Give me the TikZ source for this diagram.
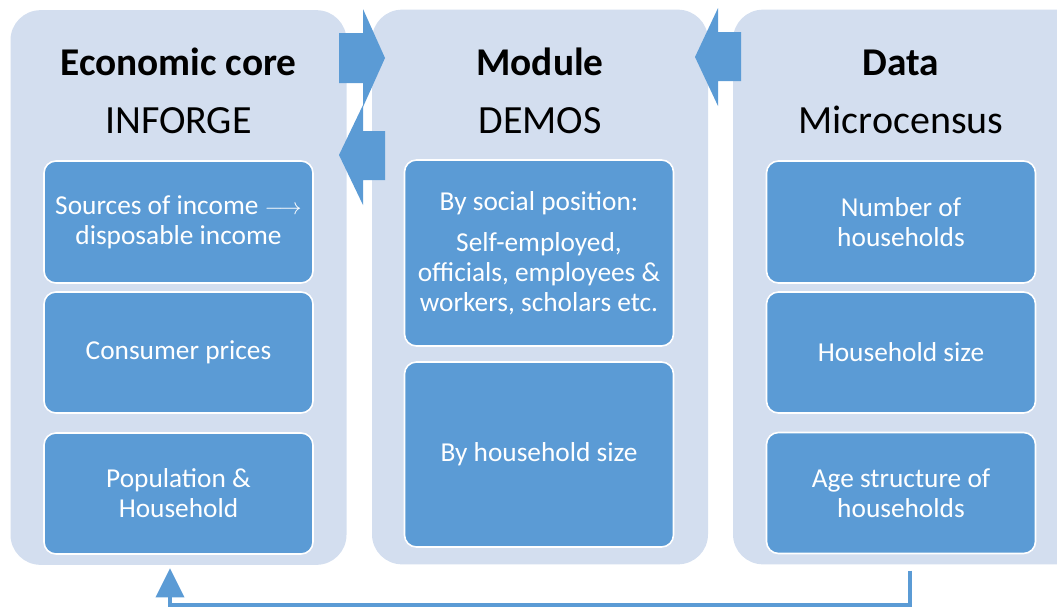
\documentclass[tikz,border=0pt]{standalone}
\usepackage{fontspec}
\setmainfont{Carlito}
\usetikzlibrary{positioning,calc,arrows.meta}
\definecolor{panelblue}{HTML}{D3DEEF}
\definecolor{boxblue}{HTML}{5B9BD5}

\begin{document}
\begin{tikzpicture}[x=0.75pt,y=-0.75pt,
    panel/.style={fill=panelblue,rounded corners=22.5pt,minimum width=252pt,minimum height=416pt,inner sep=0pt},
    item/.style={fill=boxblue,draw=white,line width=1.2pt,rounded corners=9pt,minimum width=201.75pt,inner sep=0pt,align=center,text=white,font=\fontsize{20.5}{22.5}\selectfont},
    title/.style={anchor=base,font=\fontsize{29.5}{30}\selectfont\bfseries},
    subtitle/.style={anchor=base,font=\fontsize{30}{30}\selectfont},
    block/.style={fill=boxblue},
    link/.style={draw=boxblue,line width=3pt,-{Triangle[width=21pt,length=22pt]}}]

    \useasboundingbox (0,0) rectangle (1057,612);

    % panels
    \node[panel] (core)   at (178.5,287.5) {};
    \node[panel] (module) at (540,287)     {};
    \node[panel,minimum width=265.5pt] (data) at (910,287) {};

    % titles
    \node[title]    (coretitle)   at (178.5,75) {Economic core};
    \node[subtitle] (corename)    at (178.5,133) {INFORGE};
    \node[title]    (moduletitle) at (540,75) {Module};
    \node[subtitle] (modulename)  at (540,133) {DEMOS};
    \node[title]    (datatitle)   at (901,75) {Data};
    \node[subtitle] (dataname)    at (901,133) {Microcensus};

    % economic core
    \node[item,minimum height=91.5pt]  (income) at (178.5,222)   {Sources of income {\fontsize{17}{20}\selectfont$\longrightarrow$}\\disposable income};
    \node[item,minimum height=90.75pt] (prices) at (178.5,352.5) {Consumer prices};
    \node[item,minimum height=90.75pt] (popul)  at (178.5,493.5) {Population \&\\Household};

    % module
    \node[item,minimum height=139.5pt]  (social) at (539,253)   {By social position:\\[8pt]Self-employed,\\officials, employees \&\\workers, scholars etc.};
    \node[item,minimum height=138.75pt] (hhsize) at (539,454.5) {By household size};

    % data
    \node[item,minimum height=91.5pt]  (number) at (901,222)   {Number of\\households};
    \node[item,minimum height=90.75pt] (size)   at (901,352.5) {Household size};
    \node[item,minimum height=90.75pt] (age)    at (901,493)   {Age structure of\\households};

    % block arrows
    \fill[block] (339,33) -- (363,33) -- (363,9) -- (385,58) -- (363,107) -- (363,83) -- (339,83) -- cycle;
    \fill[block] (385,131) -- (363,131) -- (363,105) -- (339,155) -- (363,205) -- (363,180) -- (385,180) -- cycle;
    \fill[block] (741,32) -- (718,32) -- (718,8) -- (695,57) -- (718,106) -- (718,81) -- (741,81) -- cycle;

    % feedback
    \draw[link] ($(data.south)+(0,6)$) -- ++(0,34) -| ($(core.south)+(-8.5,3)$);
\end{tikzpicture}
\end{document}
